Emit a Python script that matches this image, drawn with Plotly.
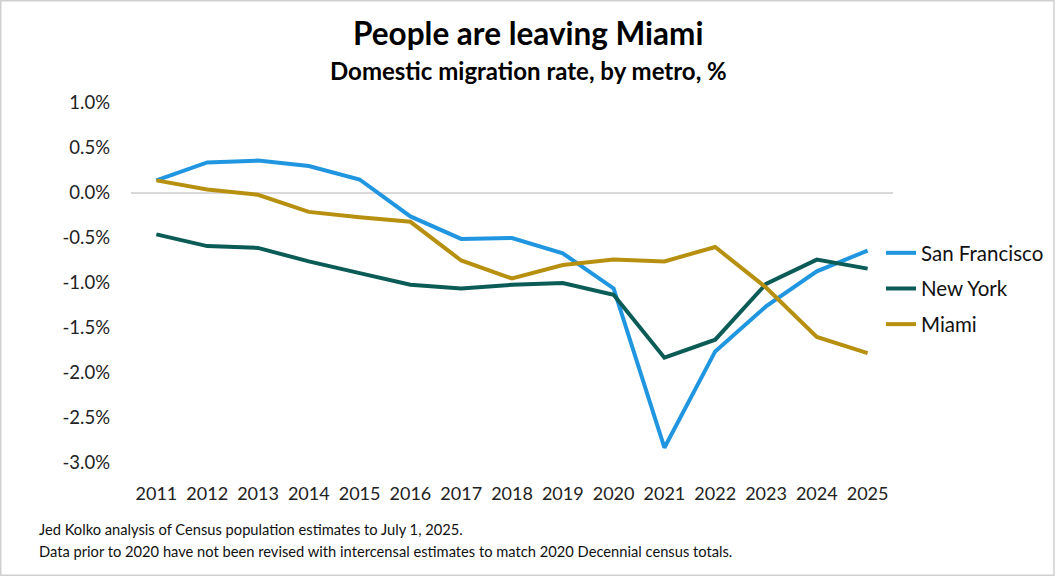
import plotly.graph_objects as go

years = [str(y) for y in range(2011, 2026)]
san_francisco = [0.14, 0.34, 0.36, 0.30, 0.15, -0.26, -0.51, -0.50, -0.67, -1.06, -2.83, -1.76, -1.26, -0.87, -0.64]
new_york = [-0.46, -0.59, -0.61, -0.76, -0.89, -1.02, -1.06, -1.02, -1.00, -1.13, -1.83, -1.63, -1.01, -0.74, -0.84]
miami = [0.14, 0.04, -0.02, -0.21, -0.27, -0.32, -0.75, -0.95, -0.80, -0.74, -0.76, -0.60, -1.05, -1.60, -1.78]

y_tick_vals = [1.0, 0.5, 0.0, -0.5, -1.0, -1.5, -2.0, -2.5, -3.0]
y_tick_text = ["1.0%", "0.5%", "0.0%", "-0.5%", "-1.0%", "-1.5%", "-2.0%", "-2.5%", "-3.0%"]

title_text = "People are leaving Miami"
subtitle_text = "Domestic migration rate, by metro, %"
footer_lines = [
    "Jed Kolko analysis of Census population estimates to July 1, 2025.",
    "Data prior to 2020 have not been revised with intercensal estimates to match 2020 Decennial census totals.",
]

W, H = 1057, 576
L, R, T, B = 131, 893, 103, 463
FONT = "Lato, 'Noto Sans', sans-serif"

def px(x):
    return (x - L) / (R - L)

def py(y):
    return (B - y) / (B - T)

fig = go.Figure()
series = [
    ("San Francisco", san_francisco, "#2196E0"),
    ("New York", new_york, "#0B5C57"),
    ("Miami", miami, "#B8900F"),
]
for name, vals, color in series:
    fig.add_trace(go.Scatter(x=years, y=vals, name=name, mode="lines", legendgroup=name,
                             line=dict(color=color, width=4)))

fig.update_layout(
    width=W, height=H,
    margin=dict(l=L, r=W - R, t=T, b=H - B, autoexpand=False),
    paper_bgcolor="white", plot_bgcolor="white",
    font=dict(family=FONT, color="#222222", size=18),
    showlegend=True,
    legend=dict(x=px(881), y=py(233), xanchor="left", yanchor="top",
                font=dict(size=20.5, color="#111111"), tracegroupgap=6,
                itemwidth=30, bgcolor="rgba(0,0,0,0)"),
    xaxis=dict(type="category", range=[-0.5, 14.5], showgrid=False, zeroline=False,
               showline=False, ticks="", tickfont=dict(size=18, color="#222222"),
               ticklabelstandoff=18),
    yaxis=dict(range=[-3.0, 1.0], tickvals=y_tick_vals, ticktext=y_tick_text,
               showgrid=False, zeroline=True, zerolinecolor="#D9D9D9", zerolinewidth=1.5,
               showline=False, ticks="", tickfont=dict(size=18.5, color="#222222"),
               ticklabelstandoff=20),
)

fig.add_annotation(text="<b>" + title_text + "</b>", xref="paper", yref="paper",
                   x=px(528), y=py(33), xanchor="center", yanchor="middle",
                   showarrow=False, font=dict(size=31.5, color="#000000", family=FONT))
fig.add_annotation(text="<b>" + subtitle_text + "</b>", xref="paper", yref="paper",
                   x=px(528), y=py(70), xanchor="center", yanchor="middle",
                   showarrow=False, font=dict(size=24, color="#000000", family=FONT))
for i, line in enumerate(footer_lines):
    fig.add_annotation(text=line, xref="paper", yref="paper",
                       x=px(37), y=py(529 + 22 * i), xanchor="left", yanchor="middle",
                       showarrow=False, font=dict(size=14.7, color="#111111", family=FONT))

fig.add_shape(type="rect", xref="paper", yref="paper",
              x0=px(0.75), x1=px(1054), y0=py(0.75), y1=py(575.25),
              line=dict(color="#D0D0D0", width=1.5), fillcolor="rgba(0,0,0,0)", layer="below")

fig.write_html("out.html", config={"displayModeBar": False},
               post_script="document.body.style.margin='0';document.body.style.overflow='hidden';")
